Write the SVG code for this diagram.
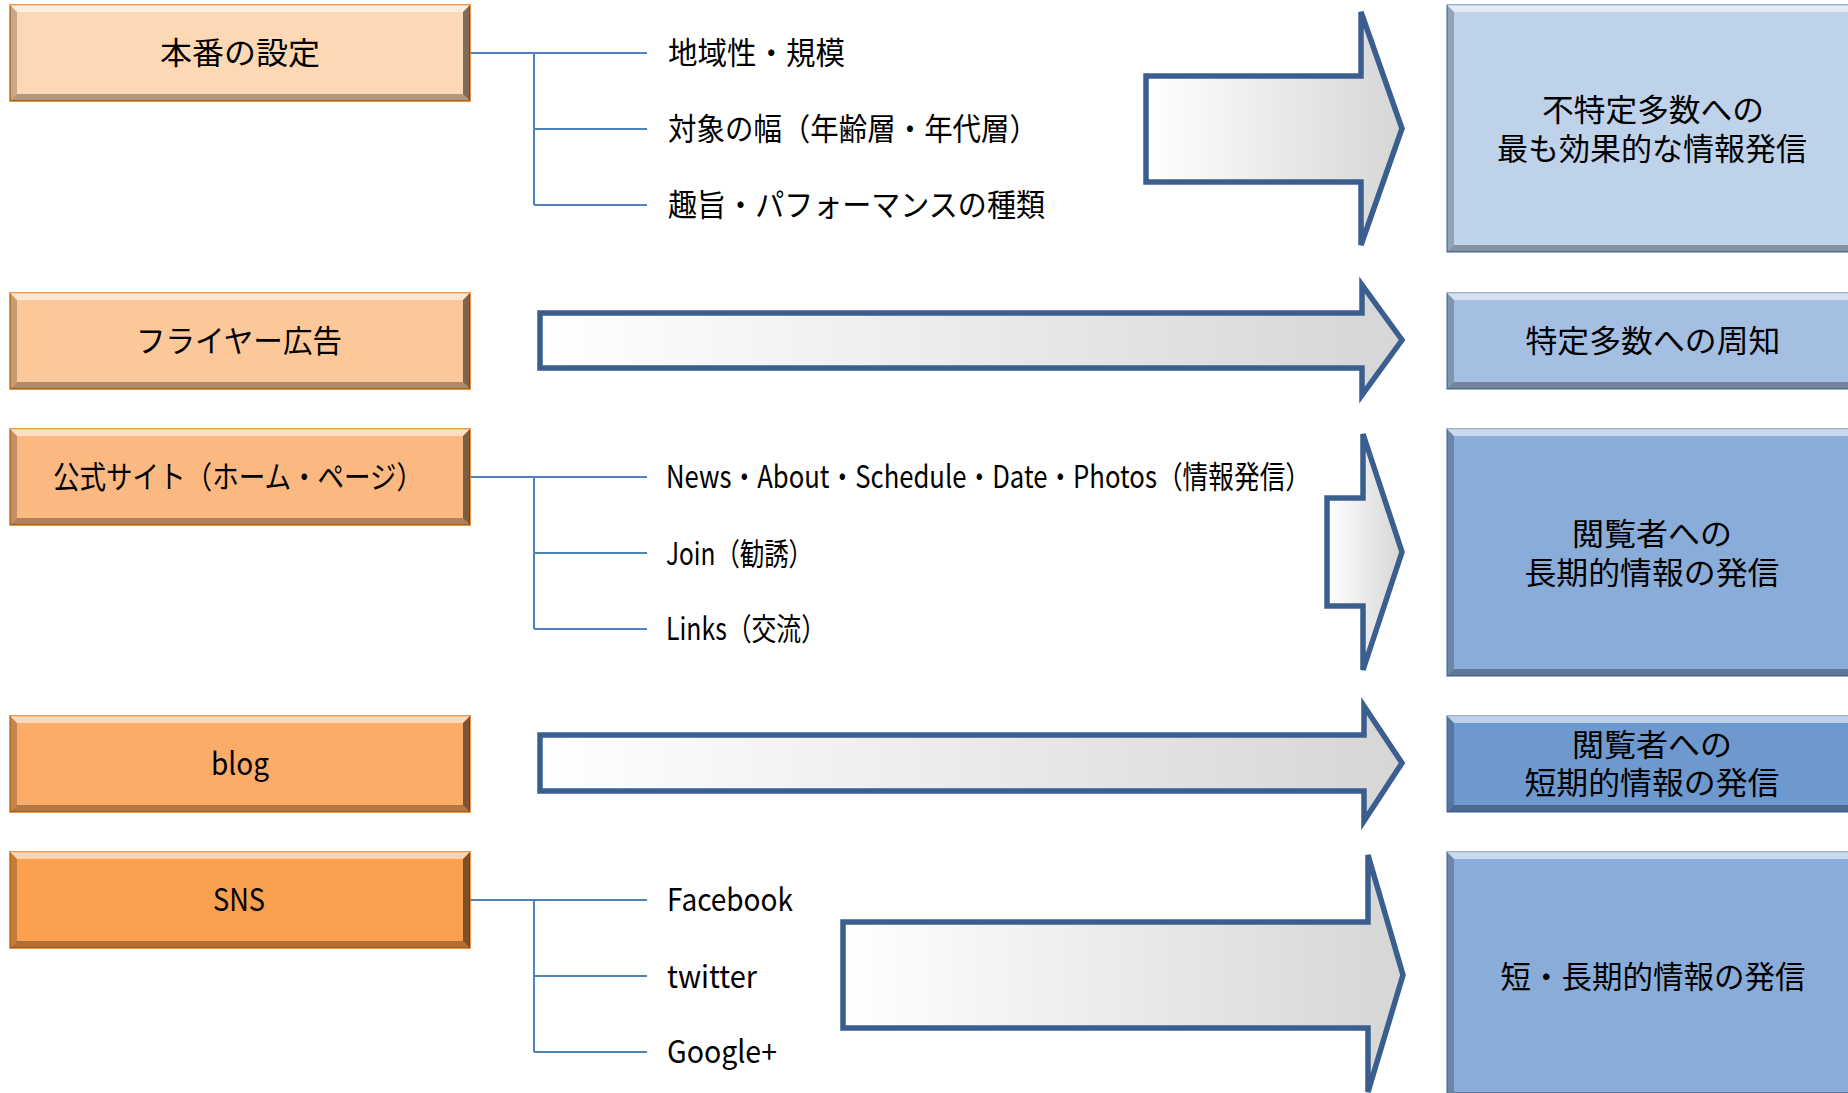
<svg xmlns="http://www.w3.org/2000/svg" xmlns:xlink="http://www.w3.org/1999/xlink" width="1848" height="1093" viewBox="0 0 1848 1093">
<style>
text{font-family:"Noto Sans CJK JP","Noto Sans",sans-serif;font-size:31px;fill:#000;dominant-baseline:central}
.c{text-anchor:middle}
.conn{fill:none;stroke:#4F81BD;stroke-width:2}
.arr{stroke:#3A5F8E;stroke-width:5.5;fill:url(#ag);stroke-linejoin:miter}
.ob{stroke:#E8760F;stroke-width:1.5}
.bb{stroke:#5A7EAD;stroke-width:1.2}
.hl{fill:#FFFFFF;opacity:.55}
.dl{fill:#000;opacity:.22}
.dr{fill:#000;opacity:.5}
.db{fill:#000;opacity:.3}
</style>
<defs>
<linearGradient id="ag" x1="0" y1="0" x2="1" y2="0">
<stop offset="0" stop-color="#FFFFFF"/>
<stop offset="1" stop-color="#D6D6D6"/>
</linearGradient>
<g id="bevO">
<path class="hl" d="M0,0 H460 L453,7 H7 Z"/>
<path class="dl" d="M0,0 L7,7 V89 L0,96 Z"/>
<path class="dr" d="M460,0 V96 L453,89 V7 Z"/>
<path class="db" d="M0,96 H460 L453,89 H7 Z"/>
</g>
<g id="bevB247">
<path class="hl" d="M0,0 H412 L405,7 H7 Z"/>
<path class="dl" d="M0,0 L7,7 V240 L0,247 Z"/>
<path class="db" d="M0,247 H412 L405,240 H7 Z"/>
</g>
<g id="bevB96">
<path class="hl" d="M0,0 H412 L405,7 H7 Z"/>
<path class="dl" d="M0,0 L7,7 V89 L0,96 Z"/>
<path class="db" d="M0,96 H412 L405,89 H7 Z"/>
</g>
</defs>
<rect width="1848" height="1093" fill="#FFFFFF"/>

<g id="connectors">
<path class="conn" d="M470,53 H647 M534,53 V205 M534,129 H647 M534,205 H647"/>
<path class="conn" d="M470,477 H647 M534,477 V629 M534,553 H647 M534,629 H647"/>
<path class="conn" d="M470,900 H647 M534,900 V1052 M534,976 H647 M534,1052 H647"/>
<path class="arr" d="M1146,76 H1361 V12 L1402,128.5 L1361,245 V182 H1146 Z"/>
<path class="arr" d="M540,313 H1362 V285 L1402,340 L1362,395 V368 H540 Z"/>
<path class="arr" d="M1327,498 H1363 V434 L1402,552 L1363,670 V606 H1327 Z"/>
<path class="arr" d="M540,735 H1364 V706 L1402,763 L1364,821 V791 H540 Z"/>
<path class="arr" d="M843,922 H1368 V855 L1403,975 L1368,1092 V1028 H843 Z"/>
</g>

<g id="node-honban">
<rect class="ob" x="10" y="5" width="460" height="96" fill="#FDD8B5"/>
<use href="#bevO" x="10" y="5"/>
<text class="c" x="240" y="50" textLength="160" lengthAdjust="spacingAndGlyphs">本番の設定</text>
</g>
<g id="node-flyer">
<rect class="ob" x="10" y="293" width="460" height="96" fill="#FCC89A"/>
<use href="#bevO" x="10" y="293"/>
<text class="c" x="239" y="338" textLength="206" lengthAdjust="spacingAndGlyphs">フライヤー広告</text>
</g>
<g id="node-site">
<rect class="ob" x="10" y="429" width="460" height="96" fill="#FBB880"/>
<use href="#bevO" x="10" y="429"/>
<text class="c" x="238" y="474" textLength="370" lengthAdjust="spacingAndGlyphs">公式サイト（ホーム・ページ）</text>
</g>
<g id="node-blog">
<rect class="ob" x="10" y="716" width="460" height="96" fill="#FBAC68"/>
<use href="#bevO" x="10" y="716"/>
<text class="c" x="240" y="761" textLength="58" lengthAdjust="spacingAndGlyphs">blog</text>
</g>
<g id="node-sns">
<rect class="ob" x="10" y="852" width="460" height="96" fill="#FBA04F"/>
<use href="#bevO" x="10" y="852"/>
<text class="c" x="239" y="897" textLength="52" lengthAdjust="spacingAndGlyphs">SNS</text>
</g>

<g id="items-honban">
<text x="668" y="50" textLength="177" lengthAdjust="spacingAndGlyphs">地域性・規模</text>
<text x="668" y="126" textLength="370" lengthAdjust="spacingAndGlyphs">対象の幅（年齢層・年代層）</text>
<text x="668" y="202" textLength="377" lengthAdjust="spacingAndGlyphs">趣旨・パフォーマンスの種類</text>
</g>
<g id="items-site">
<text x="666" y="474" textLength="645" lengthAdjust="spacingAndGlyphs">News・About・Schedule・Date・Photos（情報発信）</text>
<text x="666" y="551" textLength="147" lengthAdjust="spacingAndGlyphs">Join（勧誘）</text>
<text x="666" y="626" textLength="160" lengthAdjust="spacingAndGlyphs">Links（交流）</text>
</g>
<g id="items-sns">
<text x="667" y="897" textLength="126" lengthAdjust="spacingAndGlyphs">Facebook</text>
<text x="667" y="974" textLength="90" lengthAdjust="spacingAndGlyphs">twitter</text>
<text x="667" y="1049" textLength="110" lengthAdjust="spacingAndGlyphs">Google+</text>
</g>

<g id="node-effect">
<rect class="bb" x="1447" y="5" width="412" height="247" fill="#BED2EA"/>
<use href="#bevB247" x="1447" y="5"/>
<text class="c" x="1653" y="107" textLength="222" lengthAdjust="spacingAndGlyphs">不特定多数への</text>
<text class="c" x="1652" y="146" textLength="310" lengthAdjust="spacingAndGlyphs">最も効果的な情報発信</text>
</g>
<g id="node-notice">
<rect class="bb" x="1447" y="293" width="412" height="96" fill="#A5BFE2"/>
<use href="#bevB96" x="1447" y="293"/>
<text class="c" x="1653" y="338" textLength="255" lengthAdjust="spacingAndGlyphs">特定多数への周知</text>
</g>
<g id="node-long">
<rect class="bb" x="1447" y="429" width="412" height="247" fill="#8AACD8"/>
<use href="#bevB247" x="1447" y="429"/>
<text class="c" x="1652" y="531" textLength="160" lengthAdjust="spacingAndGlyphs">閲覧者への</text>
<text class="c" x="1652" y="570" textLength="255" lengthAdjust="spacingAndGlyphs">長期的情報の発信</text>
</g>
<g id="node-short">
<rect class="bb" x="1447" y="716" width="412" height="96" fill="#6E99CF"/>
<use href="#bevB96" x="1447" y="716"/>
<text class="c" x="1652" y="742" textLength="160" lengthAdjust="spacingAndGlyphs">閲覧者への</text>
<text class="c" x="1652" y="780" textLength="255" lengthAdjust="spacingAndGlyphs">短期的情報の発信</text>
</g>
<g id="node-both">
<rect class="bb" x="1447" y="852" width="412" height="247" fill="#8AACD8"/>
<use href="#bevB247" x="1447" y="852"/>
<text class="c" x="1653" y="974" textLength="305" lengthAdjust="spacingAndGlyphs">短・長期的情報の発信</text>
</g>
</svg>
